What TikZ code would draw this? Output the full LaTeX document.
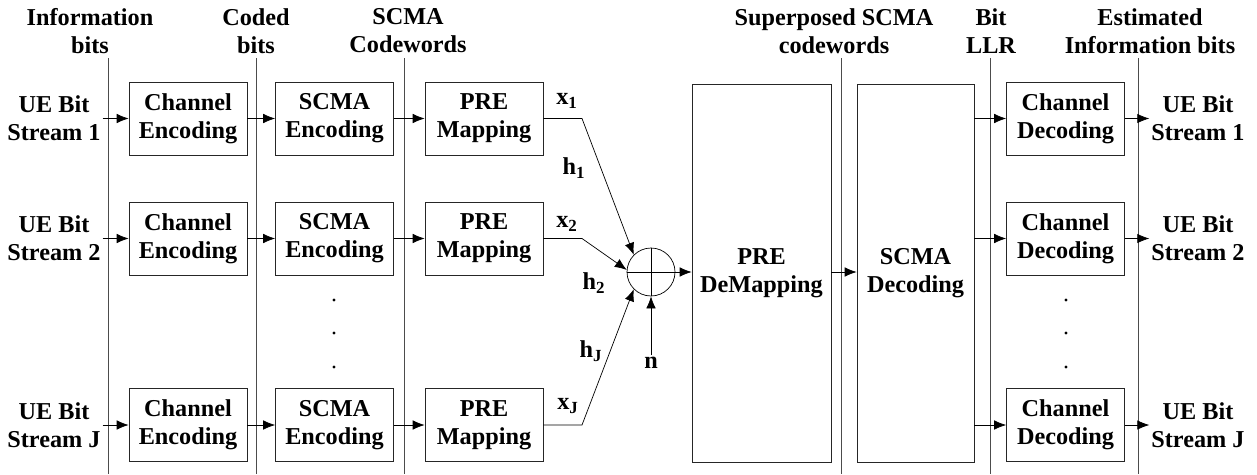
\documentclass[tikz,border=0pt]{standalone}
\usepackage{fontspec}
\setmainfont{Liberation Serif}
\usetikzlibrary{arrows.meta,positioning}

\begin{document}
\begin{tikzpicture}[x=0.02cm,y=-0.02cm,
	every node/.style={font=\fontsize{13.8}{15.9}\selectfont\bfseries, align=center, inner sep=1pt},
	block/.style={draw, black!85, text=black, minimum width=2.36cm, minimum height=1.46cm, inner sep=0pt},
	tall/.style={draw, black!85, text=black, minimum height=7.56cm, inner sep=0pt},
	sep/.style={black!70},
	sig/.style={-{Latex[length=0.24cm,width=0.19cm]}}]
	\useasboundingbox (0,0) rectangle (1257,474);

	% stage separators
	\foreach \x in {108,256,404,841,990,1138}
	  \draw[sep] (\x,58) -- (\x,474);

	\node (lbl_info) at (90,31) {Information\\bits};
	\node (lbl_coded) at (256,31) {Coded\\bits};
	\node (lbl_cw) at (408,31) {SCMA\\Codewords};
	\node (lbl_super) at (834,31) {Superposed SCMA\\codewords};
	\node (lbl_llr) at (991,31) {Bit\\LLR};
	\node (lbl_est) at (1150,31) {Estimated\\Information bits};

	% transmitter rows and receiver outputs
	\foreach \r/\y in {1/118.5, 2/238.5, J/425} {
	  \node (ue_in_\r) at (54,\y) {UE Bit\\Stream \r};
	  \node[block] (ch_enc_\r) at (188,\y) {Channel\\Encoding};
	  \node[block] (scma_enc_\r) at (334.5,\y) {SCMA\\Encoding};
	  \node[block] (pre_map_\r) at (484,\y) {PRE\\Mapping};
	  \node[block] (ch_dec_\r) at (1065.5,\y) {Channel\\Decoding};
	  \node (ue_out_\r) at (1198,\y) {UE Bit\\Stream \r};
	  \draw[sig] (ue_in_\r) -- (ch_enc_\r);
	  \draw[sig] (ch_enc_\r) -- (scma_enc_\r);
	  \draw[sig] (scma_enc_\r) -- (pre_map_\r);
	  \draw[sig] (ch_dec_\r) -- (ue_out_\r);
	}

	% vertical dots
	\foreach \y in {300,333,367} {
	  \fill (334,\y) circle (1.7);
	  \fill (1066,\y) circle (1.7);
	}

	% adder
	\node[draw, circle, minimum size=0.96cm, inner sep=0pt] (sum) at (651,272) {};
	\draw (sum.north) -- (sum.south) (sum.west) -- (sum.east);

	\coordinate (bend_1) at (582,118.5);
	\coordinate (bend_2) at (582,238.5);
	\coordinate (bend_J) at (582,425);
	\draw[sig] (pre_map_1.east) -- (bend_1) -- (sum.135);
	\draw[sig] (pre_map_2.east) -- (bend_2) -- (sum.175);
	\draw[sig] (pre_map_J.east) -- (bend_J) -- (sum.225);

	\node (x_1) at (567,101) {x\textsubscript{1}};
	\node (x_2) at (567,224) {x\textsubscript{2}};
	\node (x_J) at (568,406) {x\textsubscript{J}};
	\node (h_1) at (574,168) {h\textsubscript{1}};
	\node (h_2) at (594,283) {h\textsubscript{2}};
	\node (h_J) at (591,351) {h\textsubscript{J}};
	\node (noise) at (651,363) {n};
	\draw[sig] (noise.north) -- (sum.south);

	% receiver
	\node[tall, minimum width=2.78cm] (pre_demap) at (761.5,273) {PRE\\DeMapping};
	\node[tall, minimum width=2.34cm] (scma_dec) at (915.5,273) {SCMA\\Decoding};
	\draw[sig] (sum) -- (pre_demap.west |- sum.east);
	\draw[sig] (pre_demap.east |- sum.east) -- (scma_dec.west |- sum.east);
	\foreach \r in {1,2,J}
	  \draw[sig] (scma_dec.east |- ch_dec_\r.west) -- (ch_dec_\r.west);
\end{tikzpicture}
\end{document}
